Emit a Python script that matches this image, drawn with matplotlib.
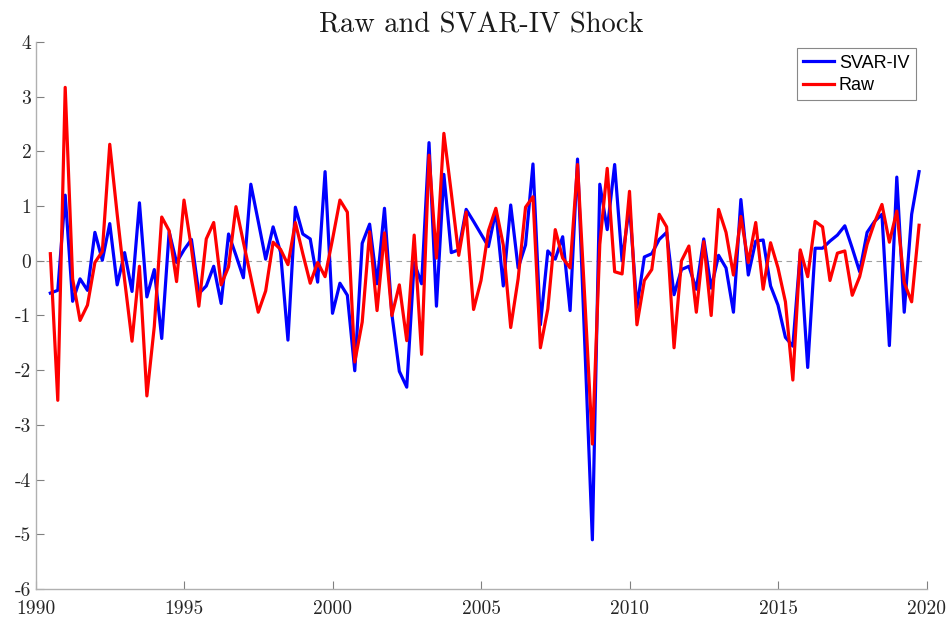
import numpy as np
import matplotlib
matplotlib.use('Agg')
import matplotlib.pyplot as plt

# quarterly shocks, 1990Q3 .. 2019Q4
start_year = 1990.5
svar_iv = [
	-0.59, -0.54, 1.20, -0.74, -0.33, -0.54, 0.52, 0.01, 0.68, -0.44,
	0.15, -0.56, 1.06, -0.66, -0.16, -1.42, 0.53, -0.03, 0.20, 0.39,
	-0.60, -0.46, -0.10, -0.78, 0.49, 0.10, -0.31, 1.40, 0.72, 0.03,
	0.62, 0.16, -1.45, 0.98, 0.49, 0.40, -0.39, 1.63, -0.96, -0.41,
	-0.63, -2.01, 0.32, 0.67, -0.42, 0.96, -0.98, -2.02, -2.31, -0.03,
	-0.42, 2.16, -0.83, 1.58, 0.15, 0.20, 0.94, 0.72, 0.49, 0.26,
	0.91, -0.46, 1.02, -0.13, 0.29, 1.77, -1.17, 0.18, 0.03, 0.44,
	-0.91, 1.86, -1.60, -5.10, 1.40, 0.57, 1.76, 0.00, 1.00, -0.85,
	0.07, 0.13, 0.39, 0.52, -0.62, -0.16, -0.10, -0.52, 0.40, -0.50,
	0.10, -0.13, -0.94, 1.12, -0.26, 0.36, 0.38, -0.46, -0.81, -1.40,
	-1.56, 0.16, -1.95, 0.23, 0.23, 0.36, 0.47, 0.64, 0.23, -0.20,
	0.52, 0.72, 0.85, -1.55, 1.53, -0.94, 0.85, 1.63,
]
raw = [
	0.13, -2.55, 3.17, -0.33, -1.09, -0.81, -0.03, 0.17, 2.13, 0.85,
	-0.35, -1.47, -0.10, -2.47, -1.20, 0.80, 0.55, -0.38, 1.11, 0.23,
	-0.83, 0.40, 0.70, -0.44, -0.11, 0.99, 0.34, -0.30, -0.94, -0.55,
	0.34, 0.21, -0.07, 0.70, 0.13, -0.41, -0.03, -0.29, 0.39, 1.11,
	0.89, -1.85, -1.12, 0.53, -0.91, 0.51, -1.00, -0.44, -1.46, 0.47,
	-1.71, 1.93, 0.05, 2.33, 1.24, 0.10, 0.89, -0.89, -0.36, 0.55,
	0.96, 0.29, -1.22, -0.33, 0.98, 1.17, -1.59, -0.88, 0.57, 0.05,
	-0.13, 1.76, -0.75, -3.35, 0.30, 1.69, -0.20, -0.24, 1.27, -1.17,
	-0.36, -0.16, 0.85, 0.62, -1.59, 0.00, 0.27, -0.94, 0.35, -1.00,
	0.94, 0.52, -0.26, 0.81, -0.03, 0.70, -0.52, 0.33, -0.13, -0.75,
	-2.18, 0.20, -0.29, 0.72, 0.62, -0.36, 0.14, 0.18, -0.63, -0.29,
	0.30, 0.70, 1.03, 0.34, 0.91, -0.40, -0.75, 0.65,
]
x_ticks = [1990, 1995, 2000, 2005, 2010, 2015, 2020]
y_ticks = [-6, -5, -4, -3, -2, -1, 0, 1, 2, 3, 4]


def main():
	dates = start_year + 0.25*np.arange(len(svar_iv))

	fig = plt.figure(figsize=(9.51, 6.21), dpi=100)
	ax = fig.add_axes([35.5/951, 1 - 589/621, (926.5-35.5)/951, (589-42)/621])

	ax.axhline(0, color='#a0a0a0', lw=0.8, ls=(0, (5, 4)), zorder=1)
	ax.plot(dates, svar_iv, color='#0000ff', lw=2.3, label='SVAR-IV', zorder=3)
	ax.plot(dates, raw, color='#ff0000', lw=2.3, label='Raw', zorder=4)

	ax.set_xlim(1990, 2020)
	ax.set_ylim(-6, 4)
	ax.set_xticks(x_ticks)
	ax.set_yticks(y_ticks)
	# plain hyphen, like the LaTeX labels in the original
	ax.set_xticklabels([str(t) for t in x_ticks])
	ax.set_yticklabels([str(t) for t in y_ticks])

	for s in ['top', 'right']:
		ax.spines[s].set_visible(False)
	for s in ['left', 'bottom']:
		ax.spines[s].set_color('#b0b0b0')
		ax.spines[s].set_linewidth(1.0)
	ax.tick_params(direction='in', length=6, color='#808080', labelsize=14,
		labelcolor='#262626')
	ax.tick_params(axis='y', pad=3)
	ax.tick_params(axis='x', pad=8)
	for lab in ax.get_xticklabels() + ax.get_yticklabels():
		lab.set_fontfamily('cmr10')

	ax.set_title('Raw and SVAR-IV Shock', fontfamily='cmr10', fontsize=20.5,
		color='#1a1a1a', pad=7)

	leg = ax.legend(loc='upper right', bbox_to_anchor=(0.992, 0.995),
		prop={'family': 'Liberation Sans', 'size': 13},
		fancybox=False, framealpha=1, edgecolor='#888888',
		handlelength=1.7, handletextpad=0.3, borderpad=0.35, labelspacing=0.3,
		borderaxespad=0.2)
	leg.get_frame().set_linewidth(0.8)

	fig.savefig('out.png', dpi=100)


if __name__ == '__main__':
	main()
